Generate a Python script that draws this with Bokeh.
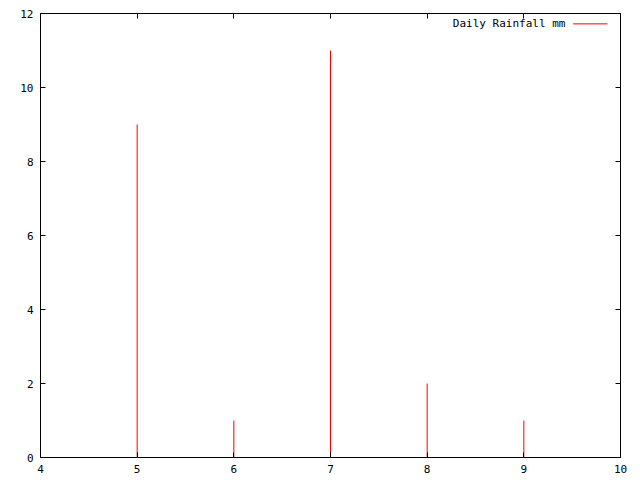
from bokeh.plotting import figure
from bokeh.models import FixedTicker, LinearAxis, Label, Arrow, Range1d, CustomLabelingPolicy
from bokeh.embed import file_html
from bokeh.resources import INLINE

days = [5, 6, 7, 8, 9]
rain_mm = [9, 1, 11, 2, 1]
x_ticks = [4, 5, 6, 7, 8, 9, 10]
y_ticks = [0, 2, 4, 6, 8, 10, 12]
series_name = "Daily Rainfall mm"

FONT = "DejaVu Sans Mono"
FS = "11px"

p = figure(frame_width=580, frame_height=444, output_backend="svg", toolbar_location=None,
           x_range=Range1d(4, 10), y_range=Range1d(0, 12),
           min_border_left=40, min_border_right=20, min_border_top=13, min_border_bottom=23,
           x_axis_location=None, y_axis_location=None)
p.grid.visible = False
p.outline_line_color = "black"
p.outline_line_width = 1
p.background_fill_color = "white"
p.border_fill_color = "white"

hide_all = CustomLabelingPolicy(code="return new indices.constructor(indices.size, 0)")

def mk_axis(ticks, labels=True):
    ax = LinearAxis(ticker=FixedTicker(ticks=ticks))
    ax.axis_line_color = None
    ax.major_tick_in = 5
    ax.major_tick_out = 0
    ax.minor_tick_line_color = None
    ax.major_tick_line_color = "black"
    ax.major_label_text_font = FONT
    ax.major_label_text_font_size = FS
    ax.major_label_text_color = "black"
    ax.major_label_standoff = 7 if labels else 0
    if not labels:
        ax.major_label_policy = hide_all
    return ax

p.add_layout(mk_axis(x_ticks), "below")
p.add_layout(mk_axis(y_ticks), "left")
p.add_layout(mk_axis(x_ticks, False), "above")
p.add_layout(mk_axis(y_ticks, False), "right")

p.segment(x0=days, y0=[0] * len(days), x1=days, y1=rain_mm, line_color="red", line_width=1)

# gnuplot-style key: text then sample line, top right
p.add_layout(Label(x=9.43, y=11.72, text=series_name, text_align="right", text_baseline="middle",
                   text_font=FONT, text_font_size=FS, text_color="black"))
p.add_layout(Arrow(x_start=9.51, y_start=11.72, x_end=9.865, y_end=11.72, start=None, end=None,
                   line_color="red", line_width=1))

open("out.html", "w").write(file_html(p, INLINE))
